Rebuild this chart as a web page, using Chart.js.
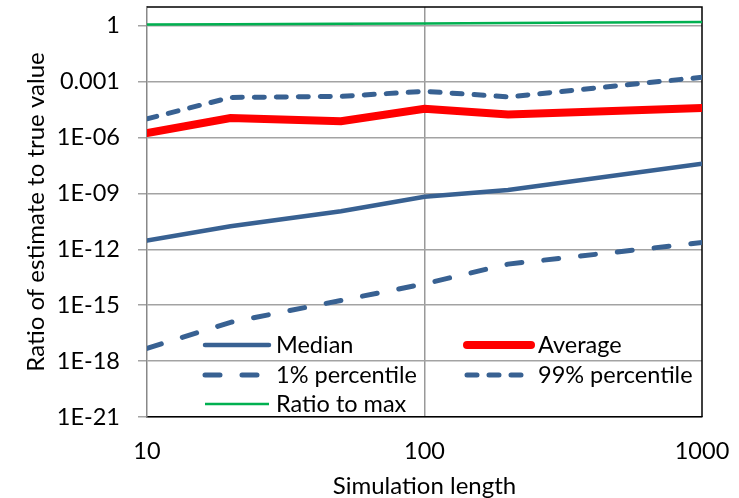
<!DOCTYPE html>
<html>
<head>
<meta charset="utf-8">
<script src="https://cdn.jsdelivr.net/npm/chart.js@4"></script>
<style>
  html, body { margin: 0; padding: 0; background: #fff; }
  #chart { display: block; }
</style>
</head>
<body>
<canvas id="chart" width="739" height="498"></canvas>
<script>
const lengths = [10, 20, 50, 100, 200, 1000];
const median = [2.9e-12, 1.7e-11, 1.1e-10, 6.6e-10, 1.5e-9, 3.9e-8];
const average = [1.7e-6, 1.1e-5, 7.4e-6, 3.5e-5, 1.7e-5, 3.8e-5];
const pct1 = [4.8e-18, 1.2e-16, 1.8e-15, 1.4e-14, 1.6e-13, 2.3e-12];
const pct99 = [1.0e-5, 1.4e-4, 1.6e-4, 3.0e-4, 1.5e-4, 1.7e-3];
const ratioToMax = [1.15, 1.2, 1.25, 1.3, 1.4, 1.55];

const yTicks = [1e-21, 1e-18, 1e-15, 1e-12, 1e-9, 1e-6, 1e-3, 1];
const yTickLabels = ['1E-21', '1E-18', '1E-15', '1E-12', '1E-09', '1E-06', '0.001', '1'];
const xTicks = [10, 100, 1000];

const FONT = 'Lato, "Open Sans", sans-serif';
const BLUE = '#386192';

function points(values) {
    return lengths.map((x, i) => ({ x: x, y: values[i] }));
}

// border of the plot area (top and right in black)
const plotBorder = {
    id: 'plotBorder',
    beforeDatasetsDraw(chart) {
        const a = chart.chartArea;
        const ctx = chart.ctx;
        ctx.save();
        ctx.strokeStyle = '#000';
        ctx.lineWidth = 1.5;
        ctx.beginPath();
        ctx.moveTo(a.left, a.top);
        ctx.lineTo(a.right, a.top);
        ctx.lineTo(a.right, a.bottom);
        ctx.stroke();
        ctx.restore();
    }
};

// legend drawn inside the plot, two columns
const innerLegend = {
    id: 'innerLegend',
    afterDatasetsDraw(chart) {
        const ctx = chart.ctx;
        const cols = [203, 465];
        const rows = [345, 375, 404];
        ctx.save();
        ctx.font = '23.5px ' + FONT;
        ctx.textBaseline = 'middle';
        chart.data.datasets.forEach((ds, i) => {
            const x = cols[i % 2];
            const y = rows[Math.floor(i / 2)];
            ctx.strokeStyle = ds.borderColor;
            ctx.lineWidth = ds.borderWidth;
            ctx.lineCap = ds.borderCapStyle || 'butt';
            ctx.setLineDash(ds.borderDash || []);
            ctx.beginPath();
            ctx.moveTo(x + 2, y);
            ctx.lineTo(x + 66, y);
            ctx.stroke();
            ctx.setLineDash([]);
            ctx.fillStyle = '#000';
            ctx.fillText(ds.label, x + 73, y);
        });
        ctx.restore();
    }
};

new Chart(document.getElementById('chart'), {
    type: 'line',
    data: {
        datasets: [
            { label: 'Median', data: points(median), borderColor: BLUE, borderWidth: 4.5, borderCapStyle: 'round' },
            { label: 'Average', data: points(average), borderColor: '#ff0000', borderWidth: 8, borderCapStyle: 'round' },
            { label: '1% percentile', data: points(pct1), borderColor: BLUE, borderWidth: 5, borderCapStyle: 'round', borderDash: [15, 22] },
            { label: '99% percentile', data: points(pct99), borderColor: BLUE, borderWidth: 5, borderCapStyle: 'round', borderDash: [10, 12] },
            { label: 'Ratio to max', data: points(ratioToMax), borderColor: '#00b050', borderWidth: 2.5 }
        ]
    },
    options: {
        responsive: false,
        animation: false,
        devicePixelRatio: 1,
        layout: { padding: { top: 7, right: 37, left: 0, bottom: 0 } },
        elements: { point: { radius: 0 }, line: { tension: 0 } },
        plugins: {
            legend: { display: false },
            tooltip: { enabled: false }
        },
        scales: {
            x: {
                type: 'logarithmic',
                min: 10,
                max: 1000,
                afterBuildTicks: s => { s.ticks = xTicks.map(v => ({ value: v })); },
                afterFit: s => { s.height = 81; s.paddingLeft = 0; s.paddingRight = 0; },
                ticks: {
                    callback: v => String(v),
                    color: '#000',
                    font: { family: FONT, size: 23.5 },
                    padding: 20,
                    maxRotation: 0,
                    autoSkip: false
                },
                grid: {
                    color: c => (c.tick && c.tick.value === 100) ? '#999' : 'rgba(0,0,0,0)',
                    lineWidth: 1.5,
                    drawTicks: false
                },
                border: { color: '#000', width: 1.5 },
                title: {
                    display: true,
                    text: 'Simulation length',
                    color: '#000',
                    font: { family: FONT, size: 24, lineHeight: 1.0 },
                    padding: { top: 0, bottom: 0 }
                }
            },
            y: {
                type: 'logarithmic',
                min: 1e-21,
                max: 10,
                afterBuildTicks: s => { s.ticks = yTicks.map(v => ({ value: v })); },
                afterFit: s => { s.width = 147; s.paddingTop = 0; s.paddingBottom = 0; },
                ticks: {
                    callback: (v, i) => yTickLabels[i],
                    color: '#000',
                    font: { family: FONT, size: 23.5 },
                    padding: 18,
                    autoSkip: false
                },
                grid: {
                    color: '#a3a3a3',
                    lineWidth: 1.5,
                    tickLength: 9,
                    drawTicks: true
                },
                border: { color: '#888', width: 1.5 },
                title: {
                    display: true,
                    text: 'Ratio of estimate to true value',
                    color: '#000',
                    font: { family: FONT, size: 24, lineHeight: 1.0 },
                    padding: { top: 24, bottom: 0 }
                }
            }
        }
    },
    plugins: [plotBorder, innerLegend]
});
</script>
</body>
</html>
